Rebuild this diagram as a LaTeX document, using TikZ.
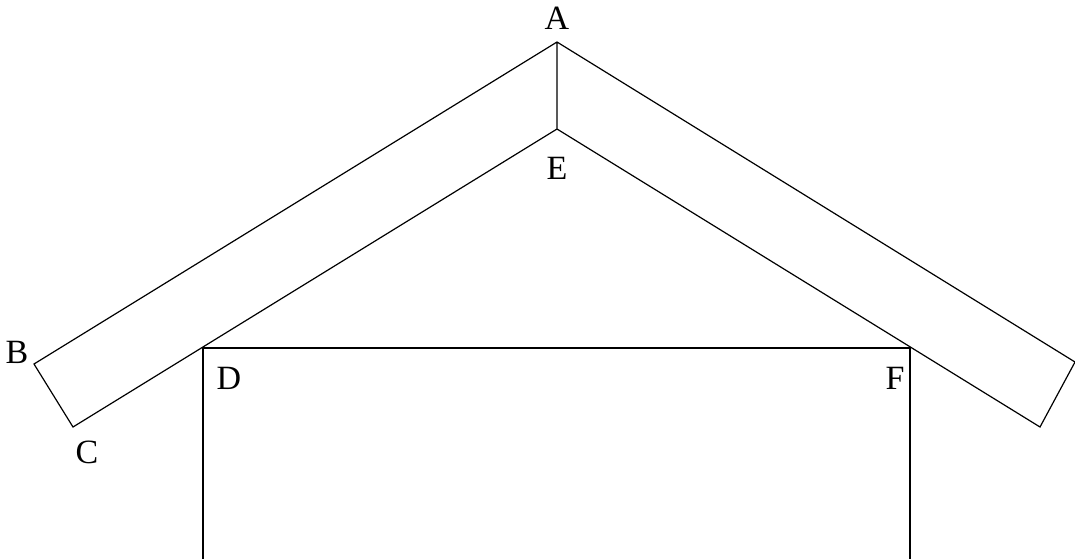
\documentclass[tikz,border=0pt]{standalone}
\usepackage{fontspec}
\setmainfont{Liberation Serif}
\begin{document}
\begin{tikzpicture}[x=1pt,y=-1pt,
  edge/.style={line width=1.2pt, line join=miter},
  lbl/.style={font=\fontsize{34}{38}\selectfont, inner sep=0pt}]
\useasboundingbox (0,0) rectangle (1075,558);
\coordinate (A) at (557,42);
\coordinate (E) at (557,129);
\coordinate (B) at (34,364);
\coordinate (C) at (73,427);
\coordinate (R1) at (1075,362);
\coordinate (R2) at (1040,427);
\coordinate (D) at (203,348);
\coordinate (F) at (910,348);
\coordinate (DB) at (203,560);
\coordinate (FB) at (910,560);
\draw[edge] (E) -- (C) -- (B) -- (A) -- (R1) -- (R2) -- (E) -- (A);
\draw[edge, line width=1.5pt] (DB) -- (D) -- (F) -- (FB);
\node[lbl] (la) at (557,18) {A};
\node[lbl] (le) at (557,168) {E};
\node[lbl] (lb) at (17,352) {B};
\node[lbl] (lc) at (87,452) {C};
\node[lbl] (ld) at (229,378) {D};
\node[lbl] (lf) at (895,378) {F};
\end{tikzpicture}
\end{document}
